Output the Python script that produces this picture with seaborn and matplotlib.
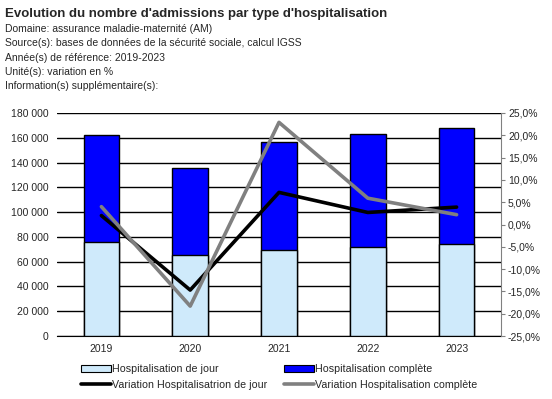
import numpy as np
import seaborn as sns
import matplotlib.pyplot as plt
from matplotlib.ticker import FuncFormatter
from matplotlib.patches import Patch
from matplotlib.lines import Line2D

annees = ["2019", "2020", "2021", "2022", "2023"]
hospi_jour = [75600, 65100, 69200, 71600, 74000]
hospi_complete = [162200, 135400, 156300, 163000, 167600]  # total de la pile
var_jour = [2.0, -14.7, 7.2, 2.7, 3.9]
var_complete = [4.0, -18.3, 22.9, 5.9, 2.2]

sns.set_style("white")
plt.rcParams["font.family"] = ["Liberation Sans", "DejaVu Sans"]

fig = plt.figure(figsize=(5.52, 3.99), dpi=100)
ax = fig.add_axes([57 / 552, 63 / 399, 444 / 552, 223 / 399])

sns.barplot(x=annees, y=hospi_complete, color="#0000ff", saturation=1,
            width=0.4, edgecolor="black", linewidth=1, ax=ax, zorder=3)
sns.barplot(x=annees, y=hospi_jour, color="#cfeafb", saturation=1,
            width=0.4, edgecolor="black", linewidth=1, ax=ax, zorder=3)

ax.set_ylim(0, 180000)
ax.set_yticks(np.arange(0, 180001, 20000))
ax.yaxis.set_major_formatter(FuncFormatter(lambda v, p: f"{int(v):,}".replace(",", " ")))
ax.set_xlim(-0.5, 4.5)
ax.grid(axis="y", color="black", linewidth=1, zorder=0)
ax.set_axisbelow(True)
for s in ["left", "top", "right"]:
    ax.spines[s].set_visible(False)
ax.spines["bottom"].set_color("black")
ax.tick_params(axis="both", labelsize=7.5, length=0, pad=6)
ax.set_xlabel("")
ax.set_ylabel("")

ax2 = ax.twinx()
x = np.arange(len(annees))
sns.lineplot(x=x, y=var_jour, color="black", linewidth=2.6, ax=ax2, zorder=5)
sns.lineplot(x=x, y=var_complete, color="#808080", linewidth=2.6, ax=ax2, zorder=5)
ax2.set_ylim(-25, 25)
ax2.set_yticks(np.arange(-25, 26, 5))
ax2.yaxis.set_major_formatter(FuncFormatter(lambda v, p: f"{v:.1f}%".replace(".", ",")))
ax2.set_xlim(-0.5, 4.5)
for s in ["left", "top", "bottom"]:
    ax2.spines[s].set_visible(False)
ax2.spines["right"].set_color("#808080")
ax2.tick_params(axis="y", labelsize=7.5, length=3, color="#808080", pad=2)

fig.text(5 / 552, 1 - 14 / 399, "Evolution du nombre d'admissions par type d'hospitalisation",
         fontsize=9.5, fontweight="bold", va="center")
infos = ["Domaine: assurance maladie-maternité (AM)",
         "Source(s): bases de données de la sécurité sociale, calcul IGSS",
         "Année(s) de référence: 2019-2023",
         "Unité(s): variation en %",
         "Information(s) supplémentaire(s):"]
for i, t in enumerate(infos):
    fig.text(5 / 552, 1 - (29 + 14.3 * i) / 399, t, fontsize=7.5, va="center")

handles = [Patch(facecolor="#cfeafb", edgecolor="black", linewidth=0.8),
           Line2D([], [], color="black", linewidth=2.6),
           Patch(facecolor="#0000ff", edgecolor="black", linewidth=0.8),
           Line2D([], [], color="#808080", linewidth=2.6)]
labels = ["Hospitalisation de jour", "Variation Hospitalisatrion de jour",
          "Hospitalisation complète", "Variation Hospitalisation complète"]
fig.legend(handles, labels, ncol=2, loc="center", bbox_to_anchor=(279 / 552, 1 - 377 / 399),
           frameon=False, fontsize=7.7, handlelength=2.8, handleheight=0.5,
           handletextpad=0.1, columnspacing=1.6, labelspacing=0.5, borderpad=0)

fig.savefig("out.png", dpi=100)
